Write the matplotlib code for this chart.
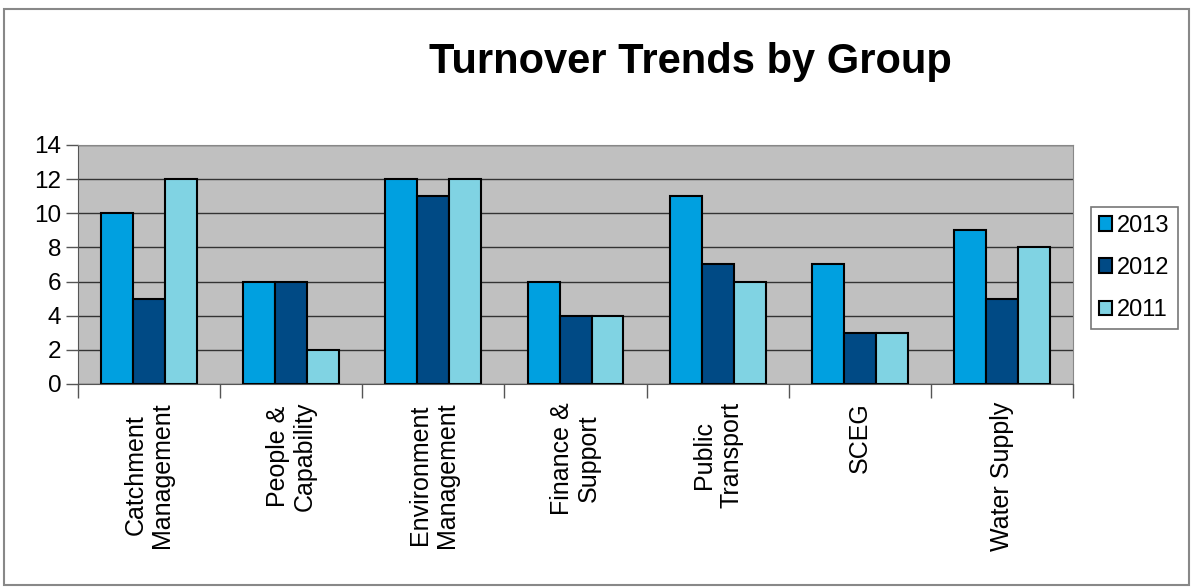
import matplotlib
matplotlib.use("Agg")
import matplotlib.pyplot as plt
import numpy as np
from matplotlib.patches import Rectangle

categories = ["Catchment\nManagement", "People &\nCapability", "Environment\nManagement",
              "Finance &\nSupport", "Public\nTransport", "SCEG", "Water Supply"]
series_names = ["2013", "2012", "2011"]
v2013 = [10, 6, 12, 6, 11, 7, 9]
v2012 = [5, 6, 11, 4, 7, 3, 5]
v2011 = [12, 2, 12, 4, 6, 3, 8]
colors = ["#00A0E0", "#004A85", "#80D3E3"]
yticks = [0, 2, 4, 6, 8, 10, 12, 14]

plt.rcParams['font.family'] = ['Liberation Sans', 'DejaVu Sans']
fig = plt.figure(figsize=(11.94, 5.87), dpi=100)
ax = fig.add_axes([0.0653, 0.346, 0.8334, 0.407])
ax.set_facecolor("#C0C0C0")

x = np.arange(len(categories))
w = 0.225
for i, (vals, name, c) in enumerate(zip([v2013, v2012, v2011], series_names, colors)):
    ax.bar(x + (i - 1) * w, vals, width=w, color=c, edgecolor="black", linewidth=1.5,
           label=name, zorder=3)

ax.set_xlim(-0.5, len(categories) - 0.5)
ax.set_ylim(0, 14)
ax.set_yticks(yticks)
ax.yaxis.grid(True, color="#333333", linewidth=1.0, zorder=0)
ax.tick_params(axis='y', labelsize=17.5, length=9, width=1, color="#555555", pad=3)
ax.set_xticks(np.arange(len(categories) + 1) - 0.5)
ax.set_xticklabels([])
ax.set_xticks(x, minor=True)
ax.set_xticklabels(categories, minor=True, rotation=90, fontsize=18, va='top', ha='center',
                   linespacing=1.15)
ax.tick_params(axis='x', which='major', length=10, width=1, color="#555555")
ax.tick_params(axis='x', which='minor', length=0, pad=13)
for s in ["top", "right"]:
    ax.spines[s].set_color("#888888")
ax.spines["left"].set_color("#555555")
ax.spines["bottom"].set_color("#555555")

fig.text(0.578, 0.895, "Turnover Trends by Group", fontsize=30, fontweight='bold',
         ha='center', va='center')

leg = ax.legend(loc='upper left', bbox_to_anchor=(0.9137, 0.648), bbox_transform=fig.transFigure,
                fontsize=17, frameon=True, fancybox=False, edgecolor="#555555",
                handlelength=0.55, handleheight=0.55, handletextpad=0.2, borderpad=0.35,
                labelspacing=0.85, borderaxespad=0)
leg.get_frame().set_linewidth(1.2)

fig.patches.append(Rectangle((0.003, 0.003), 0.993, 0.982, transform=fig.transFigure,
                             fill=False, edgecolor="#888888", linewidth=1.5))
fig.savefig("out.png", dpi=100)
